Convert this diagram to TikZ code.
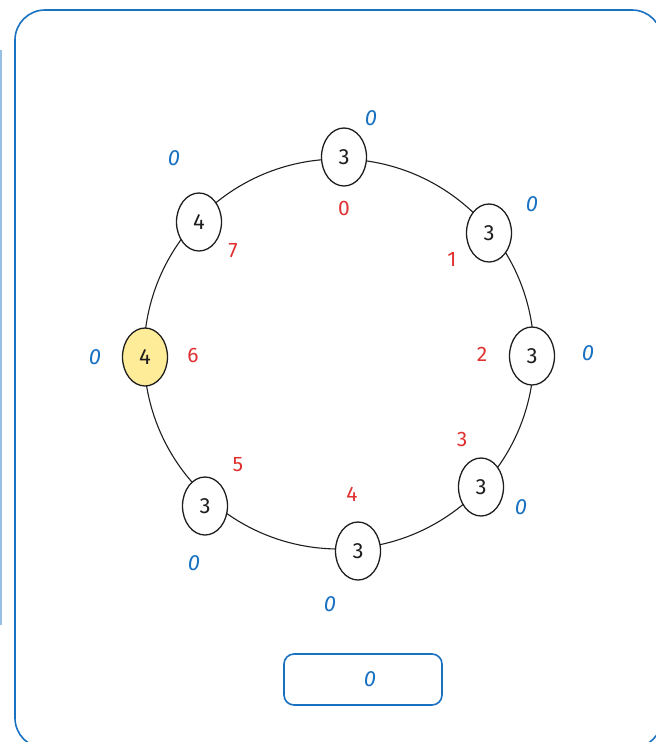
\documentclass[tikz,border=0pt]{standalone}
\usepackage{fontspec}
\setmainfont{Fira Sans}
\usetikzlibrary{shapes.geometric}
\definecolor{exblue}{HTML}{1971C2}
\definecolor{exred}{HTML}{E03131}
\definecolor{exyellow}{HTML}{FFEC99}
\definecolor{exink}{HTML}{1E1E1E}
\tikzset{
  ringnode/.style={ellipse, draw=exink, line width=1.3pt, fill=white, minimum width=45pt, minimum height=58pt, inner sep=0pt, font=\fontsize{22}{26}\selectfont, text=exink},
  hot/.style={ringnode, fill=exyellow},
  bluelbl/.style={text=exblue, font=\fontsize{22}{26}\selectfont\itshape, inner sep=0pt},
  redlbl/.style={text=exred, font=\fontsize{21}{25}\selectfont, inner sep=0pt},
  framebox/.style={draw=exblue, line width=1.6pt, rounded corners=30pt},
  sumbox/.style={draw=exblue, line width=1.6pt, rounded corners=10pt, minimum width=158pt, minimum height=51pt, inner sep=0pt, text=exblue, font=\fontsize{22}{26}\selectfont\itshape}
}
\begin{document}
\begin{tikzpicture}[x=1pt,y=-1pt]
\useasboundingbox (0,0) rectangle (656,742);
\clip (0,0) rectangle (656,742);
\fill[white] (0,0) rectangle (656,742);
% outer frame (cropped)
\draw[framebox] (15,10) rectangle (662,748);
\draw[exblue!45, line width=1.2pt] (1,50) -- (1,625);
% ring
\draw[exink, line width=1.1pt] (339,354) circle (195pt);
% nodes
\node[ringnode] (n0) at (344,157) {3};
\node[ringnode] (n1) at (489,233) {3};
\node[ringnode] (n2) at (532,356) {3};
\node[ringnode] (n3) at (481,487) {3};
\node[ringnode] (n4) at (358,551) {3};
\node[ringnode] (n5) at (205,506) {3};
\node[hot] (n6) at (145,357) {4};
\node[ringnode] (n7) at (199,222) {4};
% blue labels
\node[bluelbl] (b0) at (371,118) {0};
\node[bluelbl] (b1) at (532,204) {0};
\node[bluelbl] (b2) at (588,353) {0};
\node[bluelbl] (b3) at (521,507) {0};
\node[bluelbl] (b4) at (330,604) {0};
\node[bluelbl] (b5) at (194,563) {0};
\node[bluelbl] (b6) at (95,357) {0};
\node[bluelbl] (b7) at (174,158) {0};
% red labels
\node[redlbl] (r0) at (344,208) {0};
\node[redlbl] (r1) at (452,259) {1};
\node[redlbl] (r2) at (482,354) {2};
\node[redlbl] (r3) at (462,439) {3};
\node[redlbl] (r4) at (352,494) {4};
\node[redlbl] (r5) at (238,465) {5};
\node[redlbl] (r6) at (193,355) {6};
\node[redlbl] (r7) at (233,251) {7};
% sum box
\node[sumbox] (sum) at (363,679.5) {\hspace*{14pt}0};
\end{tikzpicture}
\end{document}
